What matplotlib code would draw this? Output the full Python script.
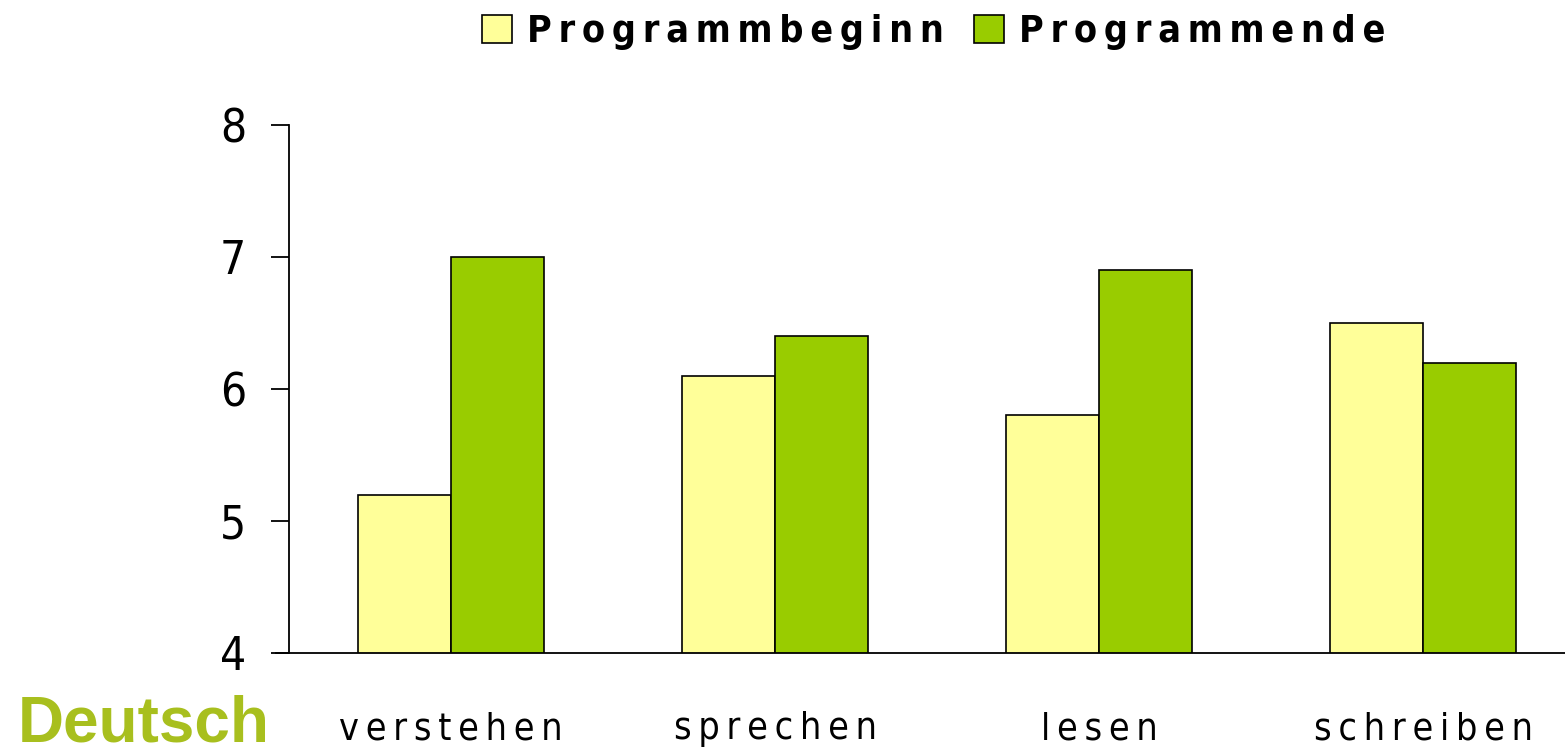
import matplotlib
matplotlib.use("Agg")
import matplotlib.pyplot as plt
from matplotlib.patches import Patch
import numpy as np

categories = ["verstehen", "sprechen", "lesen", "schreiben"]
series_names = ["Programmbeginn", "Programmende"]
beginn = [5.2, 6.1, 5.8, 6.5]
ende = [7.0, 6.4, 6.9, 6.2]
yticks = [4, 5, 6, 7, 8]
colors = ["#FFFF99", "#99CC00"]

def spaced(s, sep="\u2009"):
    return sep.join(s)

plt.rcParams['font.family'] = ['DejaVu Sans']
plt.rcParams['font.stretch'] = 'condensed'

fig = plt.figure(figsize=(15.65, 7.53), dpi=100)
ax = fig.add_axes([289/1565, 1-653/753, 1-289/1565, (653-125)/753])

x = np.arange(len(categories))
w = 0.287
ax.bar(x - w/2, beginn, w, color=colors[0], edgecolor="black", linewidth=1.2, zorder=2)
ax.bar(x + w/2, ende, w, color=colors[1], edgecolor="black", linewidth=1.2, zorder=2)

ax.set_ylim(4, 8)
ax.set_xlim(-0.5, 3.438)
ax.set_yticks(yticks)
ax.set_yticklabels([str(t) for t in yticks], fontsize=33)
ax.tick_params(axis="y", length=13, width=1.3, pad=18)
ax.set_xticks(x)
ax.set_xticklabels([spaced(c) for c in categories], fontsize=27)
ax.tick_params(axis="x", length=0, pad=42)
for s in ["top", "right"]:
    ax.spines[s].set_visible(False)
ax.spines["left"].set_linewidth(1.3)
ax.spines["bottom"].set_linewidth(1.3)
ax.spines["bottom"].set_bounds(-0.5 - 13/324, 3.438)
ax.spines["bottom"].set_clip_on(False)

handles = [Patch(facecolor=colors[i], edgecolor="black", linewidth=1.2) for i in range(2)]
fig.legend(handles, [spaced(n) for n in series_names], loc="center", bbox_to_anchor=(934/1565, 1-32/753),
           ncol=2, frameon=False, prop={"weight": "bold", "size": 27},
           handlelength=0.8, handleheight=0.8, handletextpad=0.4, columnspacing=0.8)

fig.text(18/1565, 1-724/753, "Deutsch", fontsize=46, fontweight="bold", color="#A8BF1E",
         family=["Liberation Sans", "DejaVu Sans"], stretch="normal", va="center", ha="left")

fig.savefig("out.png", dpi=100)
